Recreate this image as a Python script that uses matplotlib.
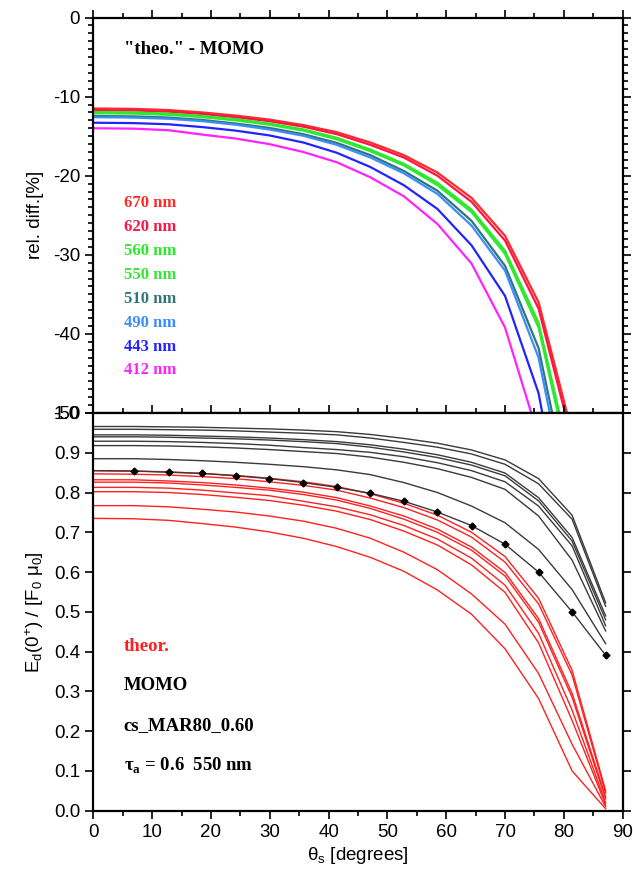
import matplotlib
matplotlib.use("Agg")
import matplotlib.pyplot as plt
from matplotlib.ticker import MultipleLocator, FormatStrFormatter

# solar zenith angles [deg]
theta = [0, 6.9, 12.8, 18.5, 24.2, 29.9, 35.7, 41.4, 47.1, 52.8, 58.5, 64.3, 70.0, 75.7, 81.4, 87.1]

wavelengths = ["670 nm", "620 nm", "560 nm", "550 nm", "510 nm", "490 nm", "443 nm", "412 nm"]
wl_colors = ["#ff2a2a", "#ff1448", "#22ee22", "#33e633", "#2e7777", "#3a8cff", "#2323ff", "#ff22ff"]

# top panel: relative difference "theo." - MOMO [%]
diff_670 = [-11.5, -11.55, -11.7, -12.0, -12.4, -12.9, -13.6, -14.5, -15.8, -17.4, -19.6, -22.8, -27.6, -36.0, -52.5, -95]
diff_620 = [-11.7, -11.75, -11.9, -12.2, -12.6, -13.1, -13.8, -14.75, -16.1, -17.7, -20.0, -23.3, -28.2, -36.8, -53.5, -95]
diff_560 = [-11.95, -12.0, -12.15, -12.45, -12.85, -13.4, -14.15, -15.2, -16.7, -18.5, -20.9, -24.3, -29.5, -38.6, -57, -96]
diff_550 = [-12.1, -12.15, -12.3, -12.6, -13.0, -13.55, -14.3, -15.4, -16.9, -18.7, -21.2, -24.6, -29.9, -39.2, -58, -96]
diff_510 = [-12.45, -12.5, -12.65, -12.95, -13.4, -13.95, -14.75, -15.85, -17.4, -19.4, -21.9, -25.7, -31.4, -41.8, -62, -97]
diff_490 = [-12.6, -12.65, -12.8, -13.1, -13.55, -14.15, -14.95, -16.1, -17.7, -19.7, -22.3, -26.3, -32.0, -43.0, -64, -97]
diff_443 = [-13.3, -13.35, -13.5, -13.85, -14.3, -14.9, -15.8, -17.1, -18.9, -21.2, -24.2, -28.8, -35.2, -47.5, -70, -98]
diff_412 = [-14.0, -14.05, -14.25, -14.8, -15.3, -16.0, -17.0, -18.3, -20.2, -22.6, -26.1, -31.1, -39.2, -53.0, -80, -99]
diffs = [diff_670, diff_620, diff_560, diff_550, diff_510, diff_490, diff_443, diff_412]

# bottom panel: Ed(0+)/(F0 mu0), MOMO (black)
momo_670 = [0.966, 0.966, 0.965, 0.964, 0.962, 0.960, 0.957, 0.953, 0.946, 0.936, 0.924, 0.907, 0.882, 0.835, 0.743, 0.523]
momo_620 = [0.959, 0.959, 0.958, 0.957, 0.955, 0.952, 0.949, 0.945, 0.937, 0.926, 0.914, 0.897, 0.871, 0.822, 0.733, 0.514]
momo_560 = [0.945, 0.945, 0.944, 0.942, 0.940, 0.937, 0.933, 0.928, 0.920, 0.909, 0.895, 0.876, 0.849, 0.787, 0.687, 0.490]
momo_550 = [0.940, 0.940, 0.939, 0.937, 0.935, 0.932, 0.928, 0.923, 0.914, 0.902, 0.888, 0.869, 0.842, 0.779, 0.678, 0.480]
momo_510 = [0.929, 0.929, 0.928, 0.926, 0.923, 0.919, 0.913, 0.908, 0.901, 0.890, 0.875, 0.855, 0.827, 0.766, 0.666, 0.465]
momo_490 = [0.918, 0.918, 0.917, 0.915, 0.912, 0.908, 0.903, 0.898, 0.889, 0.876, 0.860, 0.838, 0.808, 0.741, 0.630, 0.452]
momo_443 = [0.885, 0.885, 0.883, 0.880, 0.876, 0.871, 0.865, 0.857, 0.845, 0.825, 0.800, 0.766, 0.724, 0.657, 0.556, 0.420]
momo_412 = [0.855, 0.854, 0.851, 0.848, 0.842, 0.835, 0.825, 0.813, 0.798, 0.778, 0.751, 0.717, 0.670, 0.600, 0.500, 0.391]
momo = [momo_670, momo_620, momo_560, momo_550, momo_510, momo_490, momo_443, momo_412]

# bottom panel: theoretical (red)
theo_670 = [0.855, 0.854, 0.852, 0.848, 0.843, 0.836, 0.827, 0.815, 0.797, 0.773, 0.743, 0.700, 0.639, 0.534, 0.353, 0.050]
theo_620 = [0.847, 0.846, 0.844, 0.840, 0.835, 0.827, 0.818, 0.806, 0.786, 0.762, 0.731, 0.688, 0.625, 0.520, 0.341, 0.045]
theo_560 = [0.832, 0.832, 0.829, 0.825, 0.819, 0.811, 0.801, 0.787, 0.766, 0.741, 0.708, 0.663, 0.599, 0.483, 0.295, 0.035]
theo_550 = [0.826, 0.826, 0.824, 0.819, 0.813, 0.806, 0.795, 0.781, 0.760, 0.733, 0.700, 0.655, 0.590, 0.474, 0.285, 0.030]
theo_510 = [0.813, 0.813, 0.811, 0.806, 0.799, 0.792, 0.778, 0.764, 0.744, 0.717, 0.683, 0.635, 0.567, 0.446, 0.253, 0.020]
theo_490 = [0.802, 0.802, 0.800, 0.795, 0.788, 0.780, 0.768, 0.753, 0.732, 0.703, 0.668, 0.618, 0.549, 0.422, 0.227, 0.015]
theo_443 = [0.767, 0.767, 0.764, 0.758, 0.751, 0.741, 0.728, 0.710, 0.685, 0.650, 0.606, 0.545, 0.469, 0.345, 0.167, 0.010]
theo_412 = [0.735, 0.734, 0.730, 0.722, 0.713, 0.701, 0.685, 0.664, 0.637, 0.602, 0.555, 0.494, 0.407, 0.282, 0.100, 0.005]
theo = [theo_670, theo_620, theo_560, theo_550, theo_510, theo_490, theo_443, theo_412]

plt.rcParams["font.family"] = "Liberation Sans"
plt.rcParams["axes.unicode_minus"] = False
plt.rcParams["mathtext.fontset"] = "custom"
plt.rcParams["mathtext.rm"] = "Liberation Sans"
plt.rcParams["mathtext.it"] = "Liberation Sans:italic"
plt.rcParams["mathtext.bf"] = "Liberation Serif:bold"
SERIF = "Liberation Serif"

fig = plt.figure(figsize=(6.33, 8.72), dpi=100)
ax1 = fig.add_axes([0.1474, 0.5264, 0.8363, 0.4535])
ax2 = fig.add_axes([0.1474, 0.0703, 0.8363, 0.4561])

# ---- top panel
for d, c in zip(diffs, wl_colors):
    ax1.plot(theta, d, color=c, lw=1.6)
ax1.set_xlim(0, 90)
ax1.set_ylim(-50, 0)
ax1.xaxis.set_major_locator(MultipleLocator(10))
ax1.xaxis.set_minor_locator(MultipleLocator(5))
ax1.yaxis.set_major_locator(MultipleLocator(10))
ax1.yaxis.set_minor_locator(MultipleLocator(1))
ax1.tick_params(which="both", direction="out", top=True, right=True, bottom=False,
                labelbottom=False, labelsize=13.5, width=1.2)
ax1.tick_params(which="major", length=6)
ax1.tick_params(which="minor", length=3.5)
ax1.set_ylabel("rel. diff.[%]", fontsize=13.5, labelpad=6)

ax1.text(0.0577, 0.92, '"theo." - MOMO', transform=ax1.transAxes, family=SERIF,
         fontweight="bold", fontsize=13.5, va="center")
for i, (w, c) in enumerate(zip(wavelengths, wl_colors)):
    ax1.text(0.0577, 0.531 - i * 0.0605, w, transform=ax1.transAxes, family=SERIF,
             fontweight="bold", fontsize=12, color=c, va="center")

# ---- bottom panel
for t in theo:
    ax2.plot(theta, t, color="#ff2020", lw=1.0)
for m in momo:
    ax2.plot(theta, m, color="#3a3a3a", lw=1.0)
ax2.plot(theta[1:], momo_412[1:], ls="none", marker="D", ms=3.5, color="black")

ax2.set_xlim(0, 90)
ax2.set_ylim(0, 1.0)
ax2.xaxis.set_major_locator(MultipleLocator(10))
ax2.xaxis.set_minor_locator(MultipleLocator(5))
ax2.yaxis.set_major_locator(MultipleLocator(0.1))
ax2.yaxis.set_major_formatter(FormatStrFormatter("%.1f"))
ax2.tick_params(which="both", direction="out", top=True, right=True,
                labelsize=13.5, width=1.2)
ax2.tick_params(which="major", length=6)
ax2.tick_params(which="minor", length=3.5)
ax2.set_ylabel(r"E$_\mathrm{d}$(0$^\mathrm{+}$) / [F$_\mathrm{0}$ μ$_\mathrm{0}$]",
               fontsize=13.5, labelpad=6)
ax2.set_xlabel(r"θ$_\mathrm{s}$ [degrees]", fontsize=13.5, labelpad=3)

ax2.text(0.0577, 0.412, "theor.", transform=ax2.transAxes, family=SERIF,
         fontweight="bold", fontsize=13.5, color="#ff2020", va="center")
ax2.text(0.0577, 0.315, "MOMO", transform=ax2.transAxes, family=SERIF,
         fontweight="bold", fontsize=13.5, va="center")
ax2.text(0.0577, 0.214, "cs_MAR80_0.60", transform=ax2.transAxes, family=SERIF,
         fontweight="bold", fontsize=13.5, va="center")
ax2.text(0.0577, 0.114, r"τ$_\mathbf{a}$ = 0.6  550 nm", transform=ax2.transAxes,
         family=SERIF, fontweight="bold", fontsize=13.5, va="center")

for ax in (ax1, ax2):
    for s in ax.spines.values():
        s.set_linewidth(1.6)

fig.savefig("out.png", dpi=100)
